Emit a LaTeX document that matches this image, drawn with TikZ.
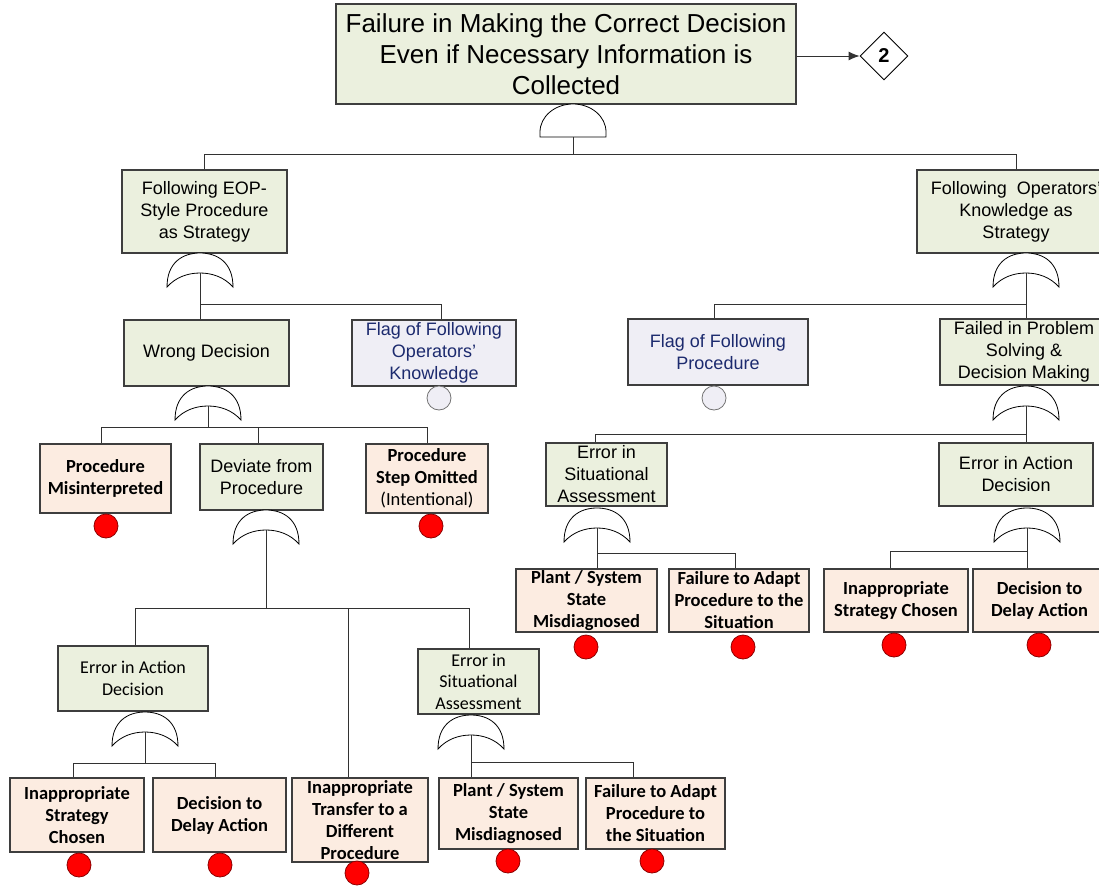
\documentclass[tikz,border=0pt]{standalone}
\usepackage{fontspec}
\setmainfont{Liberation Sans}
\newfontfamily\carl{Carlito}
\usetikzlibrary{shapes.geometric,arrows.meta}
\definecolor{gfill}{RGB}{235,240,222}
\definecolor{pfill}{RGB}{252,236,225}
\definecolor{lfill}{RGB}{239,238,245}
\definecolor{boxc}{RGB}{62,62,62}
\definecolor{navy}{RGB}{28,42,110}
\definecolor{wirec}{RGB}{50,50,50}
\tikzset{
  box/.style={draw=boxc, line width=1.1pt, inner sep=0pt, align=center},
  gbox/.style={box, fill=gfill, font=\fontsize{18}{22}\selectfont},
  gcbox/.style={box, fill=gfill, font=\carl\fontsize{18}{21.5}\selectfont},
  pbox/.style={box, fill=pfill, font=\carl\bfseries\fontsize{18.5}{22}\selectfont},
  lbox/.style={box, fill=lfill, text=navy, font=\fontsize{18}{22}\selectfont},
  wire/.style={draw=wirec, line width=0.9pt},
  redc/.style={circle, draw=red!55!black, fill=red, minimum size=24pt, inner sep=0pt, line width=0.8pt},
  flagc/.style={circle, draw=gray!90!black, fill=lfill, minimum size=24pt, inner sep=0pt, line width=0.8pt},
  gatest/.style={draw=black, fill=white, line width=0.8pt},
  orgate/.pic={
    \draw[gatest] (-33,34) .. controls (-33,10) and (-18,0) .. (0,0)
      .. controls (18,0) and (33,10) .. (33,34)
      .. controls (24,24) and (12,20) .. (0,20)
      .. controls (-12,20) and (-24,24) .. (-33,34) -- cycle;
    \coordinate (-out) at (0,20);
  },
  andgate/.pic={
    \draw[gatest] (-33,33) -- (-33,28) .. controls (-33,12.5) and (-18.2,0) .. (0,0)
      .. controls (18.2,0) and (33,12.5) .. (33,28) -- (33,33) -- cycle;
    \coordinate (-out) at (0,33);
  }
}
\begin{document}
\begin{tikzpicture}[x=1pt,y=-1pt]
\useasboundingbox (0,0) rectangle (1099,886);
\clip (0,0) rectangle (1099,886);

% nodes
\node[gbox, font=\fontsize{26}{31}\selectfont, minimum width=460pt, minimum height=100pt] (top) at (566,54)
  {Failure in Making the Correct Decision\\Even if Necessary Information is\\Collected};
\node[diamond, draw=black, line width=0.9pt, fill=white, minimum width=48pt, minimum height=48pt, inner sep=0pt,
  font=\bfseries\fontsize{20}{24}\selectfont] (d2) at (884,56) {2};

\node[gbox, minimum width=165pt, minimum height=83pt] (eop) at (204.5,211.5) {Following EOP-\\Style Procedure\\as Strategy};
\node[gbox, minimum width=198pt, minimum height=83pt] (opk) at (1016,211.5) {Following\ \ Operators’\\Knowledge as\\Strategy};

\node[gbox, minimum width=165pt, minimum height=66pt] (wrong) at (206.5,353) {Wrong Decision};
\node[lbox, minimum width=164pt, minimum height=66pt] (flagok) at (434,353) {Flag of Following\\Operators’\\Knowledge};
\node[lbox, minimum width=180pt, minimum height=66pt] (flagp) at (718,352) {Flag of Following\\Procedure};
\node[gbox, minimum width=168pt, minimum height=66pt] (fps) at (1024,352) {Failed in Problem\\Solving \&\\Decision Making};

\node[pbox, minimum width=131pt, minimum height=69pt] (pm) at (105.5,478.5) {Procedure\\Misinterpreted};
\node[gbox, minimum width=123pt, minimum height=66pt] (dev) at (261.5,477) {Deviate from\\Procedure};
\node[pbox, minimum width=122pt, minimum height=69pt] (pso) at (427,478.5) {Procedure\\Step Omitted\\{\mdseries(Intentional)}};

\node[gbox, minimum width=121pt, minimum height=63pt] (eisa1) at (606.5,474.5) {Error in\\Situational\\Assessment};
\node[gbox, minimum width=154pt, minimum height=63pt] (eiad1) at (1016,474.5) {Error in Action\\Decision};

\node[pbox, minimum width=141pt, minimum height=63pt] (psm1) at (586.5,600.5) {Plant / System\\State\\Misdiagnosed};
\node[pbox, minimum width=140pt, minimum height=63pt] (fta1) at (739,600.5) {Failure to Adapt\\Procedure to the\\Situation};
\node[pbox, minimum width=144pt, minimum height=63pt] (isc1) at (896,600.5) {Inappropriate\\Strategy Chosen};
\node[pbox, minimum width=133pt, minimum height=63pt] (dda1) at (1039.5,600.5) {Decision to\\Delay Action};

\node[gcbox, minimum width=150pt, minimum height=65pt] (eiad2) at (133,678.5) {Error in Action\\Decision};
\node[gcbox, minimum width=121pt, minimum height=65pt] (eisa2) at (478.5,681.5) {Error in\\Situational\\Assessment};

\node[pbox, minimum width=134pt, minimum height=74pt] (isc2) at (77,815) {Inappropriate\\Strategy\\Chosen};
\node[pbox, minimum width=133pt, minimum height=74pt] (dda2) at (219.5,815) {Decision to\\Delay Action};
\node[pbox, minimum width=136pt, minimum height=84pt] (itp) at (360,820) {Inappropriate\\Transfer to a\\Different\\Procedure};
\node[pbox, minimum width=139pt, minimum height=71pt] (psm2) at (508.5,813.5) {Plant / System\\State\\Misdiagnosed};
\node[pbox, minimum width=139pt, minimum height=71pt] (fta2) at (655.5,813.5) {Failure to Adapt\\Procedure to\\the Situation};

% event circles
\node[flagc] (flagokc) at (439,398) {};
\node[flagc] (flagpc) at (714,398) {};
\node[redc] (pmc) at (106,526) {};
\node[redc] (psoc) at (431,526) {};
\node[redc] (psm1c) at (586,647) {};
\node[redc] (fta1c) at (743,647) {};
\node[redc] (isc1c) at (894,645) {};
\node[redc] (dda1c) at (1039,645) {};
\node[redc] (isc2c) at (79,865) {};
\node[redc] (dda2c) at (220,865) {};
\node[redc] (itpc) at (357,873) {};
\node[redc] (psm2c) at (508,861) {};
\node[redc] (fta2c) at (652,861) {};

% gates
\pic (g0) at (573,104) {andgate};
\pic (g1) at (200,253) {orgate};
\pic (g2) at (1026,253) {orgate};
\pic (g3) at (208,386) {orgate};
\pic (g4) at (266,510) {orgate};
\pic (g5) at (145,712) {orgate};
\pic (g6) at (471,715) {orgate};
\pic (g7) at (597,508) {orgate};
\pic (g8) at (1027,508) {orgate};
\pic (g9) at (1026,386) {orgate};

% connectors
\draw[wire, -{Latex[length=11pt,width=9pt]}] (top.east |- d2) -- (d2.west);

\draw[wire] (g0-out) -- ++(0,17) -| (eop.north);
\draw[wire] (g0-out) -- ++(0,17) -| (opk.north);

\draw[wire] (g1-out) -- (g1-out |- wrong.north);
\draw[wire] (g1-out) -- ++(0,31) -| ([xshift=7pt]flagok.north);

\draw[wire] (g2-out) -- (g2-out |- fps.north);
\draw[wire] (g2-out) -- ++(0,31) -| ([xshift=-4pt]flagp.north);

\draw[wire] (g3-out) -- ++(0,21) -| ([xshift=-4.5pt]pm.north);
\draw[wire] (g3-out) -- ++(0,21) -| ([xshift=-3.5pt]dev.north);
\draw[wire] (g3-out) -- ++(0,21) -| (pso.north);

\draw[wire] (g4-out) -- ++(0,78) -| ([xshift=2pt]eiad2.north);
\draw[wire] (g4-out) -- ++(0,78) -| ([xshift=-12pt]itp.north);
\draw[wire] (g4-out) -- ++(0,78) -| ([xshift=-9.5pt]eisa2.north);

\draw[wire] (g5-out) -- ++(0,31) -| ([xshift=-4pt]isc2.north);
\draw[wire] (g5-out) -- ++(0,31) -| ([xshift=-4.5pt]dda2.north);

\draw[wire] (g6-out) -- (g6-out |- psm2.north);
\draw[wire] (g6-out) -- ++(0,27) -| ([xshift=-22.5pt]fta2.north);

\draw[wire] (g7-out) -- (g7-out |- psm1.north);
\draw[wire] (g7-out) -- ++(0,25) -| ([xshift=-4pt]fta1.north);

\draw[wire] (g8-out) -- (g8-out |- dda1.north);
\draw[wire] (g8-out) -- ++(0,23) -| ([xshift=-6pt]isc1.north);

\draw[wire] (g9-out) -- (g9-out |- eiad1.north);
\draw[wire] (g9-out) -- ++(0,28) -| ([xshift=-11.5pt]eisa1.north);
\end{tikzpicture}
\end{document}
